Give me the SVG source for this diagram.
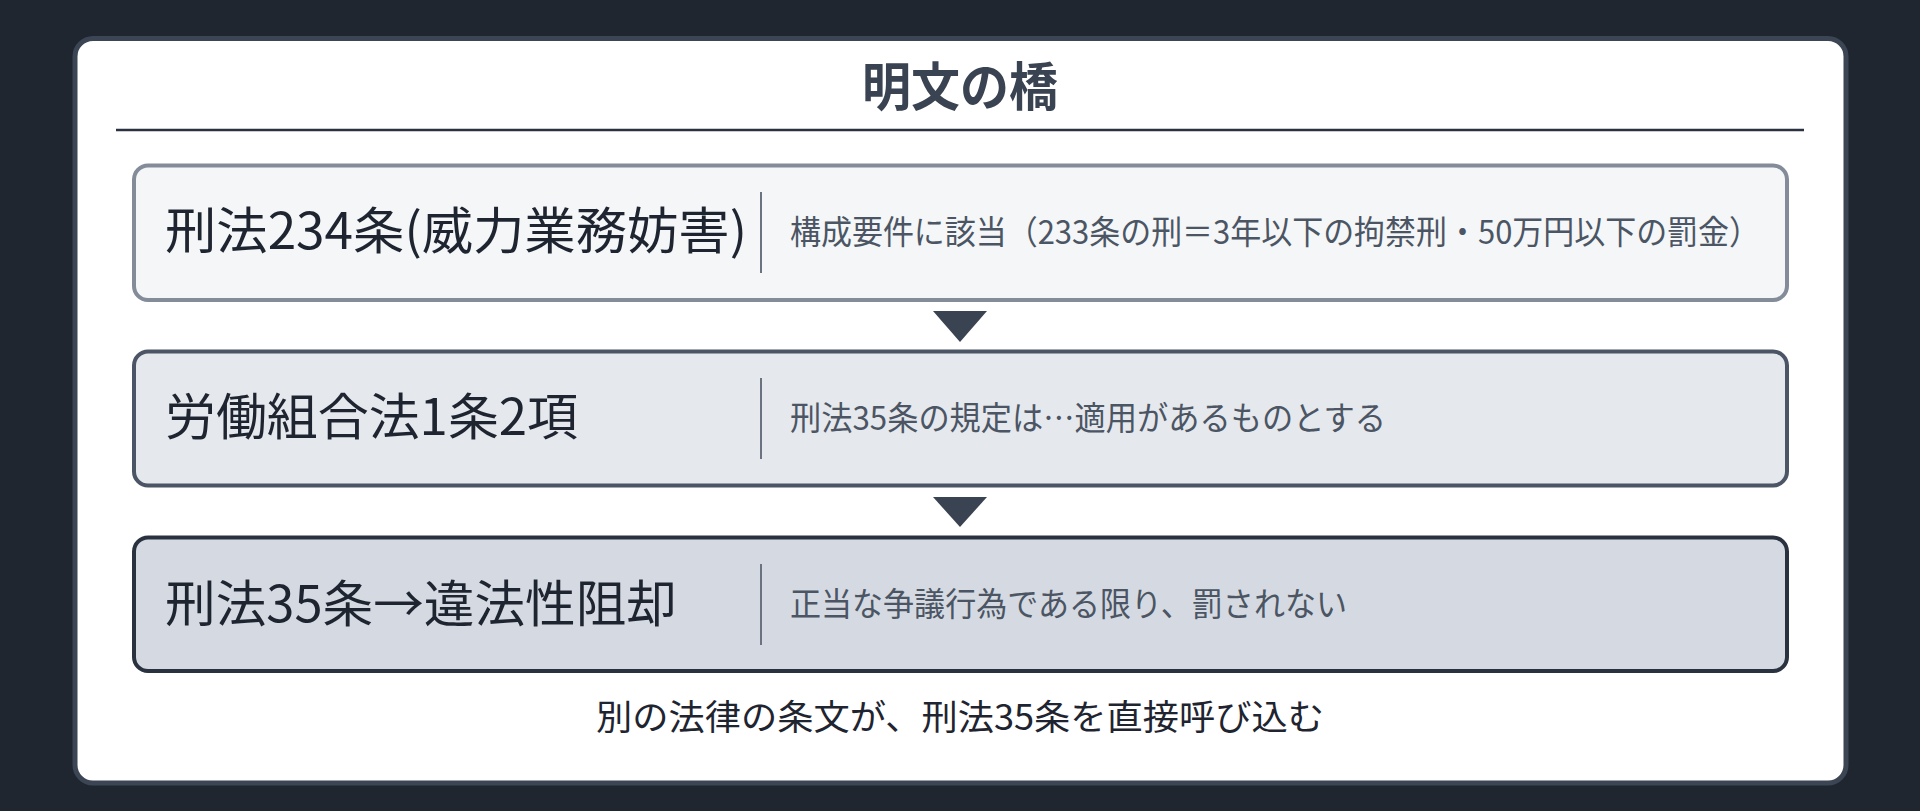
<svg xmlns="http://www.w3.org/2000/svg" width="1920" height="811" viewBox="0 0 1920 811">
<style>
.bg{fill:#1f2630}
.card{fill:#ffffff;stroke:#3b4554;stroke-width:5}
.ttl{font-family:"Noto Sans CJK JP","Noto Sans",sans-serif;font-weight:700;font-size:52px;fill:#3a4352}
.head{font-family:"Noto Sans CJK JP","Noto Sans",sans-serif;font-size:50px;fill:#1f2530}
.sub{font-family:"Noto Sans CJK JP","Noto Sans",sans-serif;font-size:33px;fill:#4b5563}
.foot{font-family:"Noto Sans CJK JP","Noto Sans",sans-serif;font-size:35px;fill:#1f2530}
.sep{stroke:#6b7280;stroke-width:2}
.b1{fill:#f4f6f8;stroke:#848c99;stroke-width:4}
.b2{fill:#e5e8ed;stroke:#4b5565;stroke-width:4}
.b3{fill:#d5dae2;stroke:#2a3240;stroke-width:4}
.arr{fill:#3a4352}
</style>
<rect class="bg" x="0" y="0" width="1920" height="811"/>
<g id="card">
<rect class="card" x="75" y="38.5" width="1771" height="744.5" rx="18"/>
<text class="ttl" x="960" y="106" text-anchor="middle" textLength="196" lengthAdjust="spacingAndGlyphs">明文の橋</text>
<line x1="116" y1="130" x2="1804" y2="130" stroke="#2a3140" stroke-width="2.5"/>
</g>
<g id="node1">
<rect class="b1" x="134" y="165.5" width="1653" height="134.5" rx="14"/>
<text class="head" x="165" y="248.5" textLength="582" lengthAdjust="spacingAndGlyphs">刑法234条(威力業務妨害)</text>
<line class="sep" x1="761" y1="192" x2="761" y2="273"/>
<text class="sub" x="790" y="243.5" textLength="970" lengthAdjust="spacingAndGlyphs">構成要件に該当（233条の刑＝3年以下の拘禁刑・50万円以下の罰金）</text>
</g>
<g id="node2">
<rect class="b2" x="134" y="351.5" width="1653" height="134" rx="14"/>
<text class="head" x="165" y="434.5" textLength="413" lengthAdjust="spacingAndGlyphs">労働組合法1条2項</text>
<line class="sep" x1="761" y1="378" x2="761" y2="459"/>
<text class="sub" x="790" y="430" textLength="596" lengthAdjust="spacingAndGlyphs">刑法35条の規定は…適用があるものとする</text>
</g>
<g id="node3">
<rect class="b3" x="134" y="537.5" width="1653" height="133.5" rx="14"/>
<text class="head" x="165" y="621.5" textLength="512" lengthAdjust="spacingAndGlyphs">刑法35条→違法性阻却</text>
<line class="sep" x1="761" y1="564" x2="761" y2="645"/>
<text class="sub" x="790" y="616" textLength="557" lengthAdjust="spacingAndGlyphs">正当な争議行為である限り、罰されない</text>
</g>
<g id="connectors">
<polygon class="arr" points="933,311 987,311 960,342"/>
<polygon class="arr" points="933,497 987,497 960,527"/>
</g>
<g id="footer">
<text class="foot" x="960" y="730" text-anchor="middle" textLength="728" lengthAdjust="spacingAndGlyphs">別の法律の条文が、刑法35条を直接呼び込む</text>
</g>
</svg>
